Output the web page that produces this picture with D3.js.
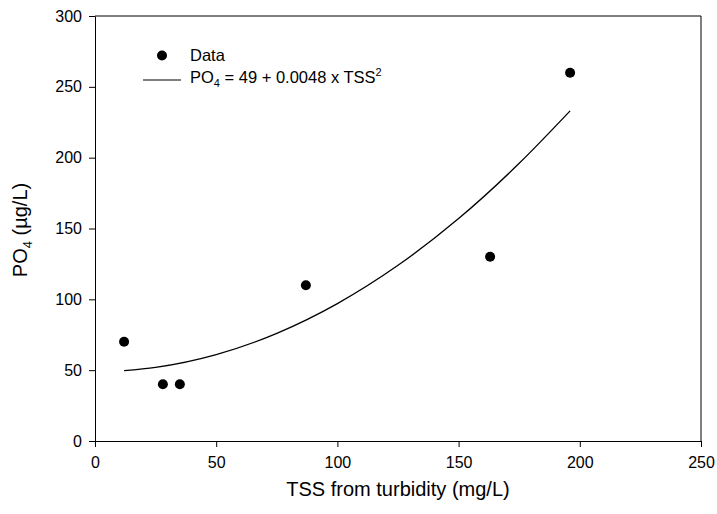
<!DOCTYPE html>
<html>
<head>
<meta charset="utf-8">
<script src="https://cdn.jsdelivr.net/npm/d3@7"></script>
<style>
  body { margin: 0; background: #fff; }
  svg { display: block; font-family: Arial, "Liberation Sans", sans-serif; }
</style>
</head>
<body>
<div id="container"></div>
<script>
let w = 717;
let h = 514;
let margin = {top: 16, right: 16, bottom: 73, left: 95};

// measured data points
let tss = [12, 28, 35, 87, 163, 196];
let po4 = [70, 40, 40, 110, 130, 260];

// fitted curve (PO4 = 49 + 0.0048 x TSS^2)
let fitX = [12, 25, 50, 75, 100, 125, 150, 175, 196];
let fitY = [49.7, 52, 61, 76, 97, 124, 157, 196, 233];

let xTicks = [0, 50, 100, 150, 200, 250];
let yTicks = [0, 50, 100, 150, 200, 250, 300];

let viz = d3.select("#container").append("svg")
    .attr("width", w)
    .attr("height", h);

let xScale = d3.scaleLinear().domain([0, 250]).range([margin.left, w - margin.right]);
let yScale = d3.scaleLinear().domain([0, 300]).range([h - margin.bottom, margin.top]);

// frame (top and right)
viz.append("path")
  .attr("d", "M" + xScale(0) + "," + yScale(300) + "H" + xScale(250) + "V" + yScale(0))
  .attr("fill", "none")
  .attr("stroke", "black")
  .attr("stroke-width", 1);

let xAxis = d3.axisBottom(xScale).tickValues(xTicks).tickSize(6).tickPadding(10).tickSizeOuter(0);
let xAxisGroup = viz.append("g")
  .attr("transform", "translate(0," + yScale(0) + ")")
  .call(xAxis);

let yAxis = d3.axisLeft(yScale).tickValues(yTicks).tickSize(6).tickPadding(7).tickSizeOuter(0);
let yAxisGroup = viz.append("g")
  .attr("transform", "translate(" + xScale(0) + ",0)")
  .call(yAxis);

[xAxisGroup, yAxisGroup].forEach(g => {
  g.selectAll("text").style("font-size", "16px").attr("fill", "black").style("font-family", "Arial, 'Liberation Sans', sans-serif");
  g.selectAll("line, path").attr("stroke", "black");
});

// axis titles
viz.append("text")
  .attr("x", (xScale(0) + xScale(250)) / 2)
  .attr("y", 496)
  .attr("text-anchor", "middle")
  .style("font-size", "20px")
  .text("TSS from turbidity (mg/L)");

let yTitle = viz.append("text")
  .attr("transform", "translate(27," + 230 + ") rotate(-90)")
  .attr("text-anchor", "middle")
  .style("font-size", "20px");
yTitle.append("tspan").text("PO");
yTitle.append("tspan").attr("dy", 5).style("font-size", "13px").text("4");
yTitle.append("tspan").attr("dy", -5).text(" (µg/L)");

// fitted curve
let line = d3.line()
  .x((d, i) => xScale(fitX[i]))
  .y(d => yScale(d))
  .curve(d3.curveMonotoneX);

viz.append("path")
  .datum(fitY)
  .attr("d", line)
  .attr("fill", "none")
  .attr("stroke", "black")
  .attr("stroke-width", 1.3);

// data points
viz.selectAll(".dot").data(po4).enter()
  .append("circle")
  .attr("class", "dot")
  .attr("cx", (d, i) => xScale(tss[i]))
  .attr("cy", d => yScale(d))
  .attr("r", 5)
  .attr("fill", "black");

// legend
let legend = viz.append("g");
legend.append("circle").attr("cx", 162).attr("cy", 55.5).attr("r", 5).attr("fill", "black");
legend.append("text").attr("x", 190).attr("y", 61).style("font-size", "16.5px").text("Data");
legend.append("line").attr("x1", 143).attr("x2", 181).attr("y1", 80).attr("y2", 80)
  .attr("stroke", "black").attr("stroke-width", 1.2);
let eq = legend.append("text").attr("x", 190).attr("y", 83).style("font-size", "16.5px");
eq.append("tspan").text("PO");
eq.append("tspan").attr("dy", 4).style("font-size", "11px").text("4");
eq.append("tspan").attr("dy", -4).text(" = 49 + 0.0048 x TSS");
eq.append("tspan").attr("dy", -7).style("font-size", "11px").text("2");
</script>
</body>
</html>
